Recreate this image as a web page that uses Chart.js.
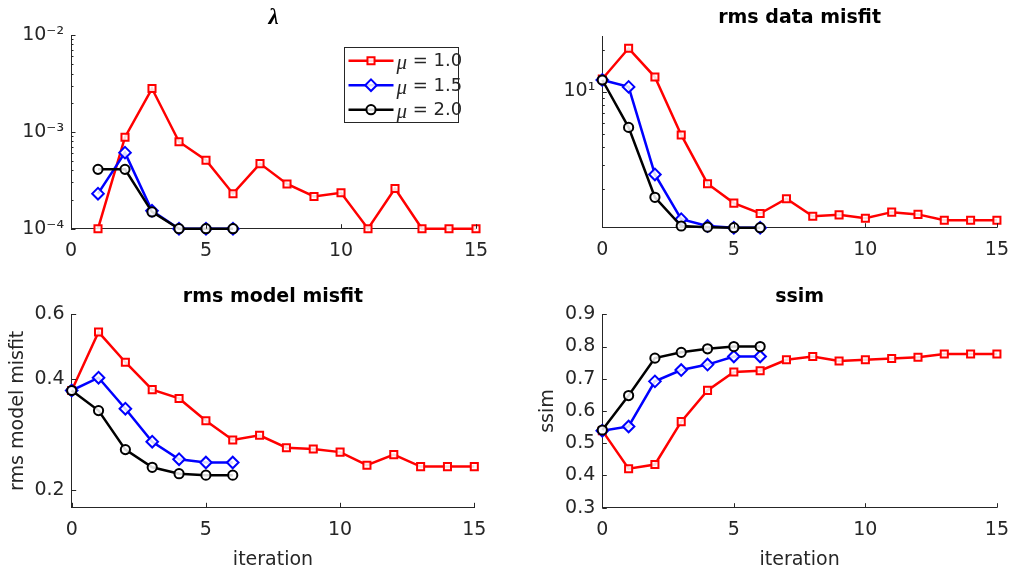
<!DOCTYPE html>
<html><head><meta charset="utf-8">
<script src="https://cdn.jsdelivr.net/npm/chart.js@4.4.1/dist/chart.umd.min.js"></script>
<style>
html,body{margin:0;padding:0;background:#fff;}
#wrap{position:relative;width:1020px;height:577px;background:#fff;}
canvas{position:absolute;left:0;top:0;}
</style></head><body>
<div id="wrap">
<canvas id="c1" width="1020" height="577"></canvas>
<canvas id="c2" width="1020" height="577"></canvas>
<canvas id="c3" width="1020" height="577"></canvas>
<canvas id="c4" width="1020" height="577"></canvas>
</div>
<script>
// ---------- data ----------
const iterLong = [0,1,2,3,4,5,6,7,8,9,10,11,12,13,14,15];
const iterShort = [0,1,2,3,4,5,6];
const iterLambdaLong = [1,2,3,4,5,6,7,8,9,10,11,12,13,14,15];
const iterLambdaShort = [1,2,3,4,5,6];
const seriesLabels = ['μ = 1.0','μ = 1.5','μ = 2.0'];

const lambdaMu10 = [1e-4, 8.8e-4, 2.8e-3, 7.9e-4, 5.1e-4, 2.3e-4, 4.7e-4, 2.9e-4, 2.15e-4, 2.35e-4, 1e-4, 2.6e-4, 1e-4, 1e-4, 1e-4];
const lambdaMu15 = [2.3e-4, 6.1e-4, 1.53e-4, 1e-4, 1e-4, 1e-4];
const lambdaMu20 = [4.1e-4, 4.1e-4, 1.49e-4, 1e-4, 1e-4, 1e-4];

const dataMu10 = [12.3, 20.4, 12.7, 4.89, 2.19, 1.59, 1.34, 1.71, 1.28, 1.31, 1.24, 1.37, 1.32, 1.20, 1.20, 1.20];
const dataMu15 = [12.1, 10.8, 2.55, 1.22, 1.09, 1.06, 1.06];
const dataMu20 = [12.1, 5.54, 1.75, 1.09, 1.07, 1.06, 1.06];

const modelMu10 = [0.373, 0.537, 0.445, 0.375, 0.355, 0.309, 0.274, 0.282, 0.261, 0.259, 0.254, 0.234, 0.250, 0.232, 0.232, 0.232];
const modelMu15 = [0.373, 0.404, 0.333, 0.271, 0.243, 0.238, 0.238];
const modelMu20 = [0.373, 0.329, 0.258, 0.231, 0.222, 0.220, 0.220];

const ssimMu10 = [0.539, 0.421, 0.434, 0.567, 0.664, 0.721, 0.725, 0.759, 0.769, 0.755, 0.759, 0.763, 0.767, 0.777, 0.777, 0.777];
const ssimMu15 = [0.539, 0.552, 0.692, 0.727, 0.744, 0.769, 0.769];
const ssimMu20 = [0.541, 0.648, 0.764, 0.782, 0.793, 0.800, 0.800];

const xTickValues = [0, 5, 10, 15];
const xTickLabels = ['0', '5', '10', '15'];
const lambdaTickValues = [1e-4, 1e-3, 1e-2];
const lambdaTickLabels = ['10⁻⁴', '10⁻³', '10⁻²'];
const dataTickValues = [10];
const dataTickLabels = ['10¹'];
const modelTickValues = [0.2, 0.4, 0.6];
const modelTickLabels = ['0.2', '0.4', '0.6'];
const ssimTickValues = [0.3, 0.4, 0.5, 0.6, 0.7, 0.8, 0.9];
const ssimTickLabels = ['0.3', '0.4', '0.5', '0.6', '0.7', '0.8', '0.9'];

// ---------- style ----------
const AXIS = '#262626';
const FONT = "'DejaVu Sans', Verdana, sans-serif";
const FS = 19;
const LH = FS * 1.2;
const tickFont = {family: FONT, size: FS, lineHeight: 1.2};
const titleFont = {family: FONT, size: FS, weight: 'bold', lineHeight: 1.2};
const lambdaTitleFont = {family: "'Liberation Serif', 'DejaVu Serif', serif", size: 23, style: 'italic', lineHeight: LH / 23};
const colors = ['#ff0000', '#0000ff', '#000000'];
const styles = ['rect', 'rectRot', 'circle'];
const radii = [5, 5.8, 4.6];

function pts(xs, ys) { return xs.map((x, i) => ({x: x, y: ys[i]})); }
function makeSets(xsArr, ysArr) {
  return ysArr.map((ys, i) => ({
    label: seriesLabels[i],
    data: pts(xsArr[i], ys),
    borderColor: colors[i],
    backgroundColor: colors[i],
    borderWidth: 2.5,
    pointStyle: styles[i],
    pointRadius: radii[i],
    pointBorderWidth: 2,
    pointBorderColor: colors[i],
    pointBackgroundColor: 'rgba(255,255,255,0.85)',
    tension: 0,
    clip: false
  })).reverse();
}

function drawMarker(ctx, style, r, x, y, color) {
  ctx.save();
  ctx.strokeStyle = color; ctx.lineWidth = 2; ctx.fillStyle = 'rgba(255,255,255,0.85)';
  ctx.beginPath();
  if (style === 'rect') {
    const s = Math.SQRT1_2 * r;
    ctx.rect(x - s, y - s, 2 * s, 2 * s);
  } else if (style === 'rectRot') {
    ctx.moveTo(x, y - r); ctx.lineTo(x + r, y); ctx.lineTo(x, y + r); ctx.lineTo(x - r, y); ctx.closePath();
  } else {
    ctx.arc(x, y, r, 0, Math.PI * 2);
  }
  ctx.fill(); ctx.stroke();
  ctx.restore();
}

// inward tick marks like MATLAB
const inwardTicks = {
  id: 'inwardTicks',
  afterDatasetsDraw(chart, args, o) {
    const ctx = chart.ctx, ca = chart.chartArea;
    const xs = chart.scales.x, ys = chart.scales.y;
    ctx.save();
    ctx.strokeStyle = AXIS; ctx.lineWidth = 1;
    ctx.beginPath();
    xs.ticks.forEach(t => {
      const px = Math.round(xs.getPixelForValue(t.value)) + 0.5;
      ctx.moveTo(px, ca.bottom); ctx.lineTo(px, ca.bottom - 4.5);
    });
    ys.ticks.forEach(t => {
      const py = Math.round(ys.getPixelForValue(t.value)) + 0.5;
      ctx.moveTo(ca.left, py); ctx.lineTo(ca.left + 4.5, py);
    });
    (o.minor || []).forEach(v => {
      if (v <= ys.min || v >= ys.max) return;
      const py = Math.round(ys.getPixelForValue(v)) + 0.5;
      ctx.moveTo(ca.left, py); ctx.lineTo(ca.left + 2.5, py);
    });
    ctx.stroke();
    ctx.restore();
  }
};

// boxed legend inside the axes
const boxLegend = {
  id: 'boxLegend',
  afterDraw(chart, args, o) {
    if (!o || !o.show) return;
    const ctx = chart.ctx, ca = chart.chartArea;
    const x0 = Math.round(ca.right - o.dxRight - o.w) + 0.5, y0 = Math.round(ca.top + o.dyTop) + 0.5;
    ctx.save();
    ctx.fillStyle = '#fff'; ctx.fillRect(x0, y0, o.w, o.h);
    ctx.strokeStyle = AXIS; ctx.lineWidth = 1; ctx.strokeRect(x0, y0, o.w, o.h);
    const sets = chart.data.datasets.slice().reverse();
    sets.forEach((ds, i) => {
      const cy = y0 + o.firstRow + i * o.rowGap;
      ctx.strokeStyle = ds.borderColor; ctx.lineWidth = ds.borderWidth;
      ctx.beginPath(); ctx.moveTo(x0 + 4, cy); ctx.lineTo(x0 + 49, cy); ctx.stroke();
      drawMarker(ctx, ds.pointStyle, ds.pointRadius, x0 + 26.5, cy, ds.borderColor);
      const sym = ds.label.charAt(0), rest = ds.label.slice(1);
      ctx.fillStyle = AXIS; ctx.textBaseline = 'middle'; ctx.textAlign = 'left';
      ctx.font = "italic 21px 'Liberation Serif', 'DejaVu Serif', serif";
      ctx.fillText(sym, x0 + 52, cy + 3);
      const w = ctx.measureText(sym).width;
      ctx.font = "18px " + FONT;
      ctx.fillText(rest, x0 + 52 + w, cy + 1);
    });
    ctx.restore();
  }
};

function build(id, o) {
  const Wy = o.L - o.yBoxLeft;
  const Hx = o.xBoxBottom - o.B;
  const padTop = o.titleCY - LH / 2;
  const titlePadBottom = o.T - padTop - LH;
  return new Chart(document.getElementById(id), {
    type: 'line',
    data: {datasets: o.datasets},
    options: {
      responsive: false, animation: false, events: [],
      layout: {padding: {left: o.yBoxLeft, top: padTop, right: 1020 - o.R, bottom: 577 - o.xBoxBottom}},
      plugins: {
        legend: {display: false},
        tooltip: {enabled: false},
        title: {display: true, text: o.title, fullSize: false, color: '#000', font: o.titleFont,
                padding: {top: 0, bottom: titlePadBottom}},
        inwardTicks: {minor: o.minor || []},
        boxLegend: o.legend || {show: false}
      },
      scales: {
        x: {
          type: 'linear', min: 0, max: 15, bounds: 'data',
          afterBuildTicks: s => { s.ticks = xTickValues.map(v => ({value: v})); },
          afterFit: s => { s.height = Hx; },
          grid: {display: false, drawTicks: false},
          border: {display: true, color: AXIS, width: 1},
          ticks: {color: AXIS, font: tickFont, padding: 11, maxRotation: 0, autoSkip: false,
                  callback: (v, i) => xTickLabels[i]},
          title: o.xTitle ? {display: true, text: o.xTitle, color: AXIS, font: tickFont, padding: 0} : {display: false}
        },
        y: {
          type: o.yType, min: o.yMin, max: o.yMax, bounds: 'data',
          afterBuildTicks: s => { s.ticks = o.yTicks.map(v => ({value: v})); },
          afterFit: s => { s.width = Wy; },
          grid: {display: false, drawTicks: false},
          border: {display: true, color: AXIS, width: 1},
          ticks: {color: AXIS, font: tickFont, padding: 7, autoSkip: false,
                  callback: (v, i) => o.yLabels[i]},
          title: o.yTitle ? {display: true, text: o.yTitle, color: AXIS, font: tickFont, padding: 0} : {display: false}
        }
      }
    },
    plugins: [inwardTicks, boxLegend]
  });
}

function logMinor(lo, hi) {
  const out = [];
  for (let e = Math.floor(Math.log10(lo)); e <= Math.ceil(Math.log10(hi)); e++) {
    for (let k = 2; k <= 9; k++) out.push(k * Math.pow(10, e));
  }
  return out;
}

build('c1', {
  L: 71, T: 35, R: 476, B: 228.7, yBoxLeft: 4, xBoxBottom: 275, titleCY: 18,
  title: 'λ', titleFont: lambdaTitleFont,
  yType: 'logarithmic', yMin: 1e-4, yMax: 1e-2, yTicks: lambdaTickValues, yLabels: lambdaTickLabels,
  minor: logMinor(1e-4, 1e-2),
  datasets: makeSets([iterLambdaLong, iterLambdaShort, iterLambdaShort], [lambdaMu10, lambdaMu15, lambdaMu20]),
  legend: {show: true, w: 114, h: 75, dxRight: 17.7, dyTop: 12.3, firstRow: 13.2, rowGap: 24.5}
});

build('c2', {
  L: 602.3, T: 36.7, R: 1004, B: 227.7, yBoxLeft: 535, xBoxBottom: 275, titleCY: 18.3,
  title: 'rms data misfit', titleFont: titleFont,
  yType: 'logarithmic', yMin: 1.06, yMax: 24.7, yTicks: dataTickValues, yLabels: dataTickLabels,
  minor: logMinor(1.06, 24.7),
  datasets: makeSets([iterLong, iterShort, iterShort], [dataMu10, dataMu15, dataMu20])
});

build('c3', {
  L: 71.7, T: 314.3, R: 474.3, B: 507.3, yBoxLeft: 18.3 - LH / 2, xBoxBottom: 560 + LH / 2, titleCY: 296.7,
  title: 'rms model misfit', titleFont: titleFont, xTitle: 'iteration', yTitle: 'rms model misfit',
  yType: 'logarithmic', yMin: 0.18, yMax: 0.6, yTicks: modelTickValues, yLabels: modelTickLabels,
  datasets: makeSets([iterLong, iterShort, iterShort], [modelMu10, modelMu15, modelMu20])
});

build('c4', {
  L: 602.3, T: 314.3, R: 1003.3, B: 507.7, yBoxLeft: 548.3 - LH / 2, xBoxBottom: 560 + LH / 2, titleCY: 296.7,
  title: 'ssim', titleFont: titleFont, xTitle: 'iteration', yTitle: 'ssim',
  yType: 'linear', yMin: 0.3, yMax: 0.9, yTicks: ssimTickValues, yLabels: ssimTickLabels,
  datasets: makeSets([iterLong, iterShort, iterShort], [ssimMu10, ssimMu15, ssimMu20])
});
</script>
</body></html>
